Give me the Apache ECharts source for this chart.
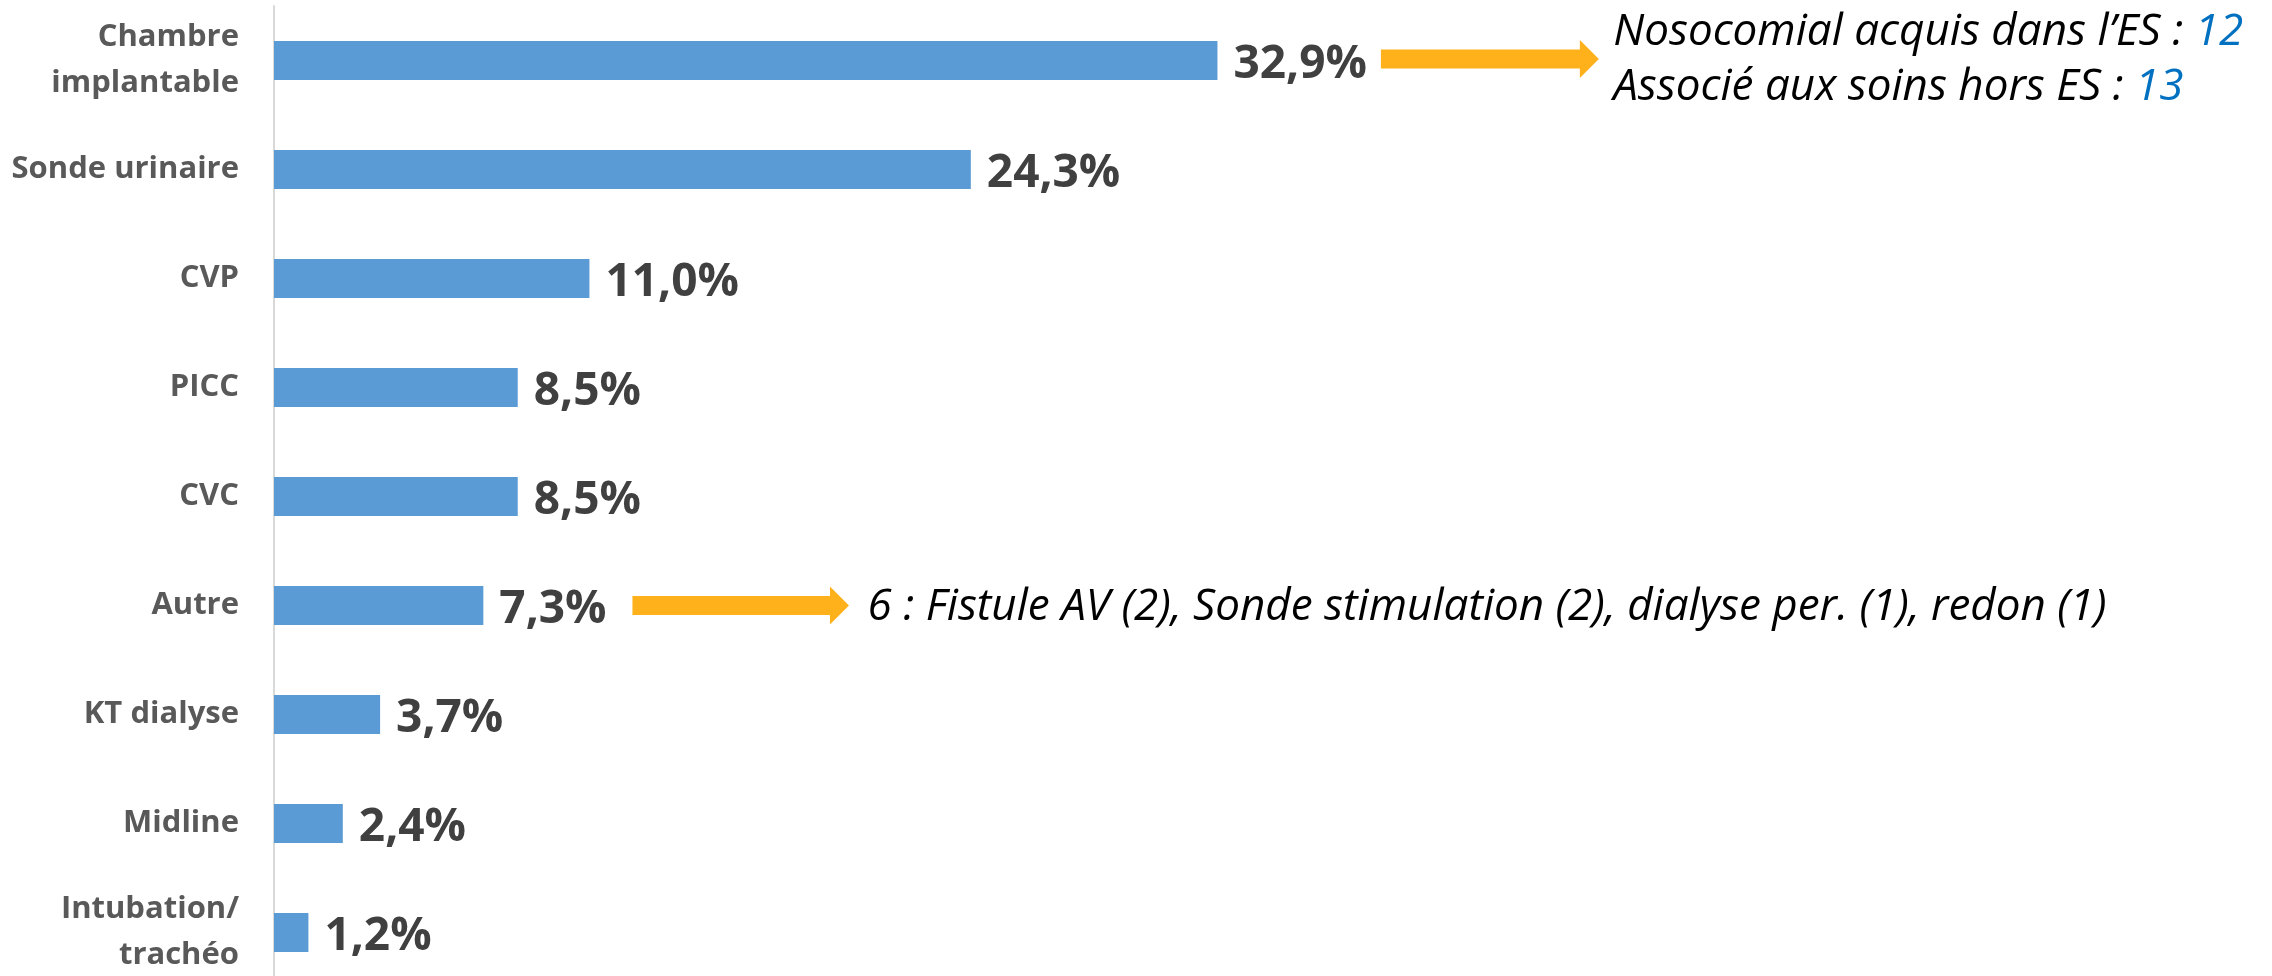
<!DOCTYPE html>
<html>
<head>
<meta charset="utf-8">
<script src="https://cdn.jsdelivr.net/npm/echarts@6/dist/echarts.min.js"></script>
<style>
  html, body { margin: 0; padding: 0; background: #fff; overflow: hidden; }
  #chart { width: 2272px; height: 992px; }
</style>
</head>
<body>
<div id="chart"></div>
<script>
// données
const categories = ['Chambre\nimplantable', 'Sonde urinaire', 'CVP', 'PICC', 'CVC', 'Autre', 'KT dialyse', 'Midline', 'Intubation/\ntrachéo'];
const shares = [32.9, 24.3, 11.0, 8.5, 8.5, 7.3, 3.7, 2.4, 1.2];
const origineLabels = ['Nosocomial acquis dans l\u2019ES : ', 'Associé aux soins hors ES : '];
const origineCounts = [12, 13];
const autreDetail = '6 : Fistule AV (2), Sonde stimulation (2), dialyse per. (1), redon (1)';

const BAR = '#5B9BD5';
const ARROW = '#FFB11B';
const FONT = '"Open Sans", "Liberation Sans", sans-serif';

const chart = echarts.init(document.getElementById('chart'));

const fmt = v => v.toFixed(1).replace('.', ',') + '%';

// le graphique d'origine est coupé en bas : la zone de tracé dépasse un peu la fenêtre
chart.setOption({
  animation: false,
  grid: { left: 274, width: 1950, top: 6, height: 981, containLabel: false },
  xAxis: {
    type: 'value', min: 0, max: 68,
    show: false
  },
  yAxis: {
    type: 'category',
    data: categories,
    inverse: true,
    axisLine: { show: true, lineStyle: { color: '#D9D9D9', width: 2 } },
    axisTick: { show: false },
    axisLabel: {
      margin: 35,
      color: '#595959',
      fontFamily: FONT,
      fontWeight: 'bold',
      fontSize: 31,
      lineHeight: 46
    }
  },
  series: [{
    type: 'bar',
    data: shares,
    barCategoryGap: '64%',
    itemStyle: { color: BAR },
    label: {
      show: true,
      position: 'right',
      distance: 16,
      offset: [0, 4],
      formatter: p => fmt(p.value),
      color: '#404040',
      fontFamily: FONT,
      fontWeight: 'bold',
      fontSize: 46
    }
  }]
});

// flèches + annotations, placées d'après les échelles du graphique
const px = (v, i) => chart.convertToPixel({ gridIndex: 0 }, [v, i]);

function blockArrow(x1, x2, y) {
  const sh = 9.5, hh = 19, hl = 19;
  return {
    type: 'polygon',
    shape: {
      points: [[x1, y - sh], [x2 - hl, y - sh], [x2 - hl, y - hh], [x2, y],
               [x2 - hl, y + hh], [x2 - hl, y + sh], [x1, y + sh]]
    },
    style: { fill: ARROW }
  };
}

const iChambre = 0, iAutre = 5;
const a1s = px(38.6, iChambre), a1e = px(46.2, iChambre);
const a2s = px(12.5, iAutre), a2e = px(20.05, iAutre);
const t1 = px(46.7, iChambre), t2 = px(20.7, iAutre);

const italic = { fontFamily: FONT, fontStyle: 'italic', fontSize: 44 };

chart.setOption({
  graphic: [
    blockArrow(a1s[0], a1e[0], a1s[1] - 1.5),
    blockArrow(a2s[0], a2e[0], a2s[1]),
    ...origineLabels.map((lab, k) => ({
      type: 'text',
      x: t1[0], y: t1[1] + (k === 0 ? -28 : 27),
      style: {
        text: '{a|' + lab + '}{b|' + origineCounts[k] + '}',
        verticalAlign: 'middle',
        rich: {
          a: Object.assign({ fill: '#000' }, italic),
          b: Object.assign({ fill: '#0070C0' }, italic)
        }
      }
    })),
    {
      type: 'text',
      x: t2[0], y: t2[1] + 2,
      style: Object.assign({ text: autreDetail, fill: '#000', verticalAlign: 'middle' }, italic)
    }
  ]
});
</script>
</body>
</html>
